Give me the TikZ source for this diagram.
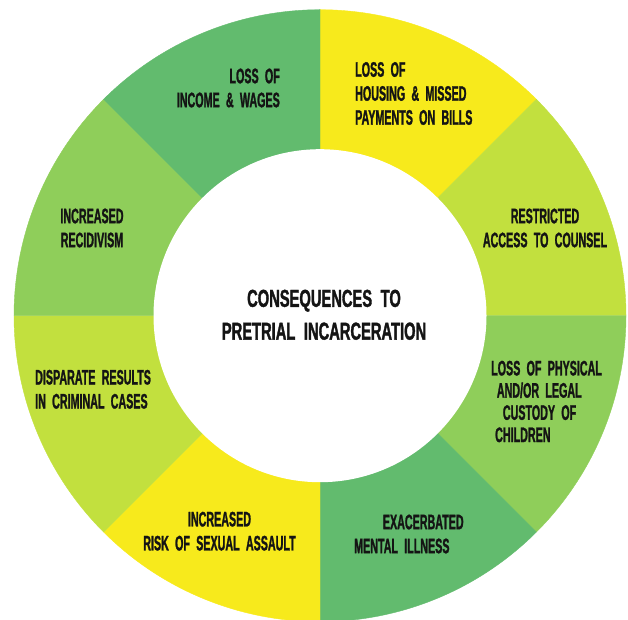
\documentclass[tikz,border=0pt]{standalone}
\usepackage{fontspec}
\usepackage{xcolor}
\usepackage{tikz}
\newfontfamily\ringfont{Liberation Sans}[FakeStretch=0.51,WordSpace=2.1,FakeBold=1.2]
\newfontfamily\hubfont{Liberation Sans}[FakeStretch=0.6,WordSpace=2.1,FakeBold=1.4]
\definecolor{ringyellow}{RGB}{247,234,28}
\definecolor{ringlime}{RGB}{194,224,62}
\definecolor{ringgreen}{RGB}{143,206,90}
\definecolor{ringdark}{RGB}{98,187,110}
\definecolor{inkc}{RGB}{20,20,20}
\tikzset{
  seglabel/.style={font=\ringfont\bfseries\fontsize{21}{24}\selectfont,text=inkc,inner sep=0pt},
  hublabel/.style={font=\hubfont\bfseries\fontsize{24.5}{32.8}\selectfont,text=inkc,align=center,inner sep=0pt}
}

\begin{document}
\begin{tikzpicture}[x=1pt,y=1pt]
  \useasboundingbox (0,0) rectangle (628,619);
  \clip (0,0) rectangle (628,619);
  \coordinate (ctr) at (320,303.3);
  % eight sectors, clockwise from the top
  \foreach \a/\c in {90/ringyellow,45/ringlime,0/ringgreen,-45/ringdark,-90/ringyellow,-135/ringlime,-180/ringgreen,135/ringdark} {
    \filldraw[\c,line width=0.4pt] (ctr) -- ++(\a:306) arc[start angle=\a,end angle=\a-45,radius=306] -- cycle;
  }
  % white hole in the middle
  \fill[white] (ctr) circle[radius=166.5];

  \node[hublabel] (hub) at (324,304.2) {CONSEQUENCES TO\\PRETRIAL INCARCERATION};

  % labels on the ring
  \node[seglabel,align=right,anchor=east] (income) at (280,531) {LOSS OF\\INCOME \& WAGES};
  \node[seglabel,align=left,anchor=west] (housing) at (355,525.5) {LOSS OF\\HOUSING \& MISSED\\PAYMENTS ON BILLS};
  \node[seglabel,align=center] (counsel) at (545,391) {RESTRICTED\\ACCESS TO COUNSEL};
  \node[seglabel,align=left,anchor=west,font=\ringfont\bfseries\fontsize{21}{22.2}\selectfont] (custody) at (491,217.5)
    {LOSS OF PHYSICAL\\\hspace*{5.7pt}AND/OR LEGAL\\\hspace*{11.7pt}CUSTODY OF\\\hspace*{4pt}CHILDREN};
  \node[seglabel,align=left,anchor=west] (mental) at (354,85) {\hspace*{28.7pt}EXACERBATED\\MENTAL ILLNESS};
  \node[seglabel,align=center] (assault) at (219.5,87.8) {INCREASED\\RISK OF SEXUAL ASSAULT};
  \node[seglabel,align=left,anchor=west] (disparate) at (35,229.7) {DISPARATE RESULTS\\IN CRIMINAL CASES};
  \node[seglabel,align=center] (recidivism) at (92,391) {INCREASED\\RECIDIVISM};
\end{tikzpicture}
\end{document}
